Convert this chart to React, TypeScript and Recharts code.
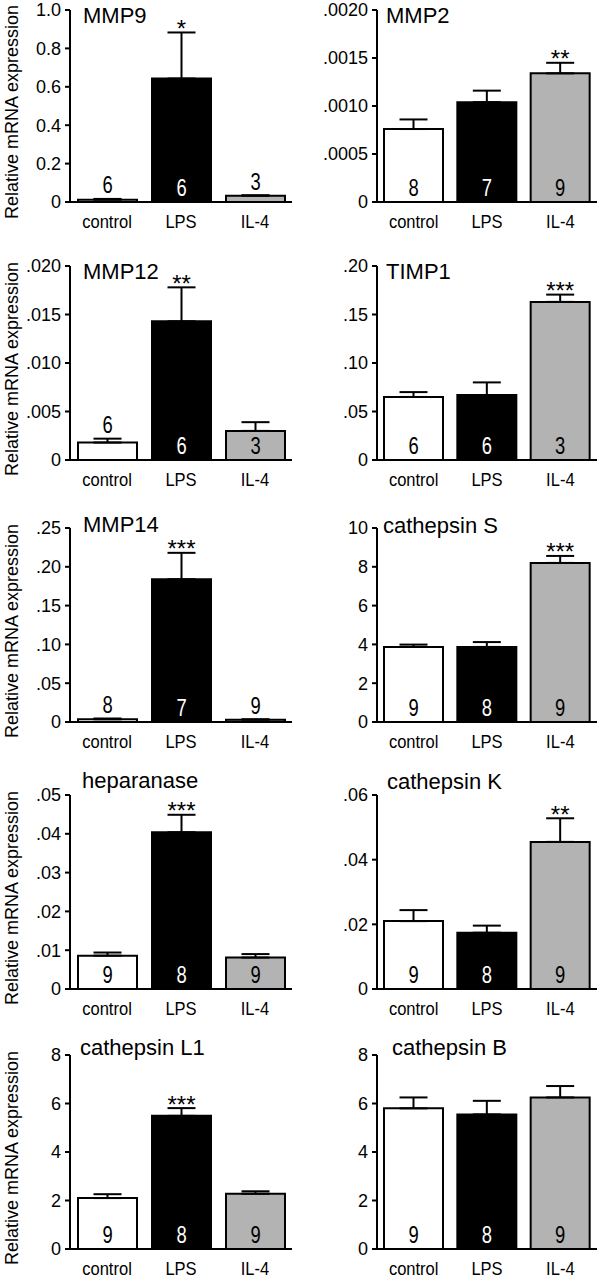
import { Bar, BarChart, Cell, ErrorBar, LabelList, XAxis, YAxis } from 'recharts';

const groups = ['control', 'LPS', 'IL-4'];
const barFills = ['#ffffff', '#000000', '#b3b3b3'];
const yLabel = 'Relative mRNA expression';
const font = '"Liberation Sans", Arial, Helvetica, sans-serif';

// MMP9
const mmp9Mean = [0.012, 0.643, 0.033];
const mmp9Sem = [0.004, 0.24, 0.002];
const mmp9N = [6, 6, 3];
const mmp9Sig = ['', '*', ''];
const mmp9Ticks = [0, 0.2, 0.4, 0.6, 0.8, 1.0];
const mmp9TickLabels = ['0', '0.2', '0.4', '0.6', '0.8', '1.0'];

// MMP2
const mmp2Mean = [0.00076, 0.00104, 0.00134];
const mmp2Sem = [0.0001, 0.00012, 0.00011];
const mmp2N = [8, 7, 9];
const mmp2Sig = ['', '', '**'];
const mmp2Ticks = [0, 0.0005, 0.001, 0.0015, 0.002];
const mmp2TickLabels = ['0', '.0005', '.0010', '.0015', '.0020'];

// MMP12
const mmp12Mean = [0.0018, 0.0143, 0.003];
const mmp12Sem = [0.0004, 0.0035, 0.0009];
const mmp12N = [6, 6, 3];
const mmp12Sig = ['', '**', ''];
const mmp12Ticks = [0, 0.005, 0.01, 0.015, 0.02];
const mmp12TickLabels = ['0', '.005', '.010', '.015', '.020'];

// TIMP1
const timp1Mean = [0.065, 0.067, 0.163];
const timp1Sem = [0.005, 0.013, 0.0075];
const timp1N = [6, 6, 3];
const timp1Sig = ['', '', '***'];
const timp1Ticks = [0, 0.05, 0.1, 0.15, 0.2];
const timp1TickLabels = ['0', '.05', '.10', '.15', '.20'];

// MMP14
const mmp14Mean = [0.0035, 0.184, 0.003];
const mmp14Sem = [0.001, 0.034, 0.0005];
const mmp14N = [8, 7, 9];
const mmp14Sig = ['', '***', ''];
const mmp14Ticks = [0, 0.05, 0.1, 0.15, 0.2, 0.25];
const mmp14TickLabels = ['0', '.05', '.10', '.15', '.20', '.25'];

// cathepsin S
const ctssMean = [3.87, 3.87, 8.2];
const ctssSem = [0.12, 0.25, 0.36];
const ctssN = [9, 8, 9];
const ctssSig = ['', '', '***'];
const ctssTicks = [0, 2, 4, 6, 8, 10];
const ctssTickLabels = ['0', '2', '4', '6', '8', '10'];

// heparanase
const hpseMean = [0.0086, 0.0404, 0.0081];
const hpseSem = [0.0008, 0.0045, 0.0009];
const hpseN = [9, 8, 9];
const hpseSig = ['', '***', ''];
const hpseTicks = [0, 0.01, 0.02, 0.03, 0.04, 0.05];
const hpseTickLabels = ['0', '.01', '.02', '.03', '.04', '.05'];

// cathepsin K
const ctskMean = [0.021, 0.0174, 0.0455];
const ctskSem = [0.0034, 0.0022, 0.0073];
const ctskN = [9, 8, 9];
const ctskSig = ['', '', '**'];
const ctskTicks = [0, 0.02, 0.04, 0.06];
const ctskTickLabels = ['0', '.02', '.04', '.06'];

// cathepsin L1
const ctslMean = [2.1, 5.49, 2.28];
const ctslSem = [0.16, 0.32, 0.1];
const ctslN = [9, 8, 9];
const ctslSig = ['', '***', ''];
const ctslTicks = [0, 2, 4, 6, 8];
const ctslTickLabels = ['0', '2', '4', '6', '8'];

// cathepsin B
const ctsbMean = [5.8, 5.55, 6.25];
const ctsbSem = [0.45, 0.56, 0.47];
const ctsbN = [9, 8, 9];
const ctsbSig = ['', '', ''];
const ctsbTicks = [0, 2, 4, 6, 8];
const ctsbTickLabels = ['0', '2', '4', '6', '8'];

// layout of the grid (pixels)
const cols = [
  { left: 0, axisX: 70, right: 292 },
  { left: 300, axisX: 377, right: 597 },
];
const rows = [
  { top: 10, zero: 202 },
  { top: 266, zero: 460 },
  { top: 528, zero: 722 },
  { top: 795, zero: 989 },
  { top: 1055, zero: 1249 },
];

const panels = [
  { title: 'MMP9', mean: mmp9Mean, sem: mmp9Sem, n: mmp9N, sig: mmp9Sig, ticks: mmp9Ticks, labels: mmp9TickLabels, col: 0, row: 0, tx: 83, ty: 23 },
  { title: 'MMP2', mean: mmp2Mean, sem: mmp2Sem, n: mmp2N, sig: mmp2Sig, ticks: mmp2Ticks, labels: mmp2TickLabels, col: 1, row: 0, tx: 386, ty: 23 },
  { title: 'MMP12', mean: mmp12Mean, sem: mmp12Sem, n: mmp12N, sig: mmp12Sig, ticks: mmp12Ticks, labels: mmp12TickLabels, col: 0, row: 1, tx: 83, ty: 279 },
  { title: 'TIMP1', mean: timp1Mean, sem: timp1Sem, n: timp1N, sig: timp1Sig, ticks: timp1Ticks, labels: timp1TickLabels, col: 1, row: 1, tx: 386, ty: 279 },
  { title: 'MMP14', mean: mmp14Mean, sem: mmp14Sem, n: mmp14N, sig: mmp14Sig, ticks: mmp14Ticks, labels: mmp14TickLabels, col: 0, row: 2, tx: 83, ty: 532 },
  { title: 'cathepsin S', mean: ctssMean, sem: ctssSem, n: ctssN, sig: ctssSig, ticks: ctssTicks, labels: ctssTickLabels, col: 1, row: 2, tx: 383, ty: 533 },
  { title: 'heparanase', mean: hpseMean, sem: hpseSem, n: hpseN, sig: hpseSig, ticks: hpseTicks, labels: hpseTickLabels, col: 0, row: 3, tx: 82, ty: 788 },
  { title: 'cathepsin K', mean: ctskMean, sem: ctskSem, n: ctskN, sig: ctskSig, ticks: ctskTicks, labels: ctskTickLabels, col: 1, row: 3, tx: 387, ty: 789 },
  { title: 'cathepsin L1', mean: ctslMean, sem: ctslSem, n: ctslN, sig: ctslSig, ticks: ctslTicks, labels: ctslTickLabels, col: 0, row: 4, tx: 80, ty: 1055 },
  { title: 'cathepsin B', mean: ctsbMean, sem: ctsbSem, n: ctsbN, sig: ctsbSig, ticks: ctsbTicks, labels: ctsbTickLabels, col: 1, row: 4, tx: 392, ty: 1055 },
];

// category names under the x axis, slightly condensed like the original face
const CategoryTick = (props: any) => {
  const { x, y, payload } = props;
  return (
    <text
      transform={`translate(${x},${y + 26}) scale(0.87,1)`}
      textAnchor="middle"
      fontSize={19}
      fontFamily={font}
      fill="#000"
    >
      {payload.value}
    </text>
  );
};

function Panel({ p }: { p: (typeof panels)[number] }) {
  const col = cols[p.col];
  const row = rows[p.row];
  const mTop = Math.min(row.top, 30);
  const plotH = row.zero - row.top;
  const xAxisH = 40;
  const width = 300;
  const height = mTop + plotH + xAxisH;
  const chartTop = row.top - mTop;
  const max = p.ticks[p.ticks.length - 1];
  const unit = plotH / max;

  const data = groups.map((g, i) => ({
    group: g,
    mean: p.mean[i],
    err: [0, p.sem[i]],
    n: p.n[i],
    sig: p.sig[i],
  }));

  const renderN = (props: any) => {
    const vb = props.viewBox || props;
    const { x, y, width: w, height: h } = vb;
    const i = props.index;
    const cx = x + w / 2;
    const zero = y + h;
    let ty = zero - 6;
    let fill = i === 1 ? '#fff' : '#000';
    if (h < 25) {
      const errTop = zero - (p.mean[i] + p.sem[i]) * unit;
      ty = errTop - 5.5;
      fill = '#000';
    }
    return (
      <text
        transform={`translate(${cx},${ty}) scale(0.8,1)`}
        textAnchor="middle"
        fontSize={23}
        fontFamily={font}
        fill={fill}
      >
        {p.n[i]}
      </text>
    );
  };

  const renderSig = (props: any) => {
    const vb = props.viewBox || props;
    const { x, y, width: w, height: h } = vb;
    const i = props.index;
    if (!p.sig[i]) return null;
    const zero = y + h;
    const errTop = zero - (p.mean[i] + p.sem[i]) * unit;
    return (
      <text x={x + w / 2} y={errTop + 4.4} textAnchor="middle" fontSize={24} fontFamily={font} fill="#000">
        {p.sig[i]}
      </text>
    );
  };

  const cy = mTop + plotH / 2 + 6;

  return (
    <div style={{ position: 'absolute', left: col.left, top: chartTop, width, height }}>
      <BarChart
        width={width}
        height={height}
        data={data}
        margin={{ top: mTop, right: col.left + width - col.right, bottom: 0, left: 0 }}
      >
        <XAxis
          dataKey="group"
          height={xAxisH}
          tickLine={false}
          axisLine={{ stroke: '#000', strokeWidth: 2 }}
          tickSize={0}
          tickMargin={0}
          interval={0}
          tick={<CategoryTick />}
        />
        <YAxis
          type="number"
          width={col.axisX - col.left}
          domain={[0, max]}
          ticks={p.ticks}
          interval={0}
          tickFormatter={(v: number) => p.labels[p.ticks.indexOf(v)] ?? String(v)}
          axisLine={{ stroke: '#000', strokeWidth: 2 }}
          tickLine={{ stroke: '#000', strokeWidth: 2 }}
          tickSize={5}
          tickMargin={4}
          tick={{ fontSize: 18, fill: '#000', fontFamily: font }}
        />
        <Bar dataKey="mean" barSize={59} stroke="#000" strokeWidth={2} isAnimationActive={false}>
          {data.map((_, i) => (
            <Cell key={i} fill={barFills[i]} />
          ))}
          <ErrorBar dataKey="err" direction="y" width={14} stroke="#000" strokeWidth={2} isAnimationActive={false} />
          <LabelList dataKey="n" content={renderN} />
          <LabelList dataKey="sig" content={renderSig} />
        </Bar>
        <text x={p.tx - col.left} y={p.ty - chartTop} fontSize={22} fontFamily={font} fill="#000">
          {p.title}
        </text>
        {p.col === 0 && (
          <text
            x={18}
            y={cy}
            transform={`rotate(-90, 18, ${cy})`}
            textAnchor="middle"
            fontSize={18}
            fontFamily={font}
            fill="#000"
            textLength={214}
            lengthAdjust="spacingAndGlyphs"
          >
            {yLabel}
          </text>
        )}
      </BarChart>
    </div>
  );
}

export default function App() {
  return (
    <div style={{ position: 'absolute', left: 0, top: 0, width: 600, height: 1277, background: '#fff' }}>
      {panels.map((p) => (
        <Panel key={p.title} p={p} />
      ))}
    </div>
  );
}
